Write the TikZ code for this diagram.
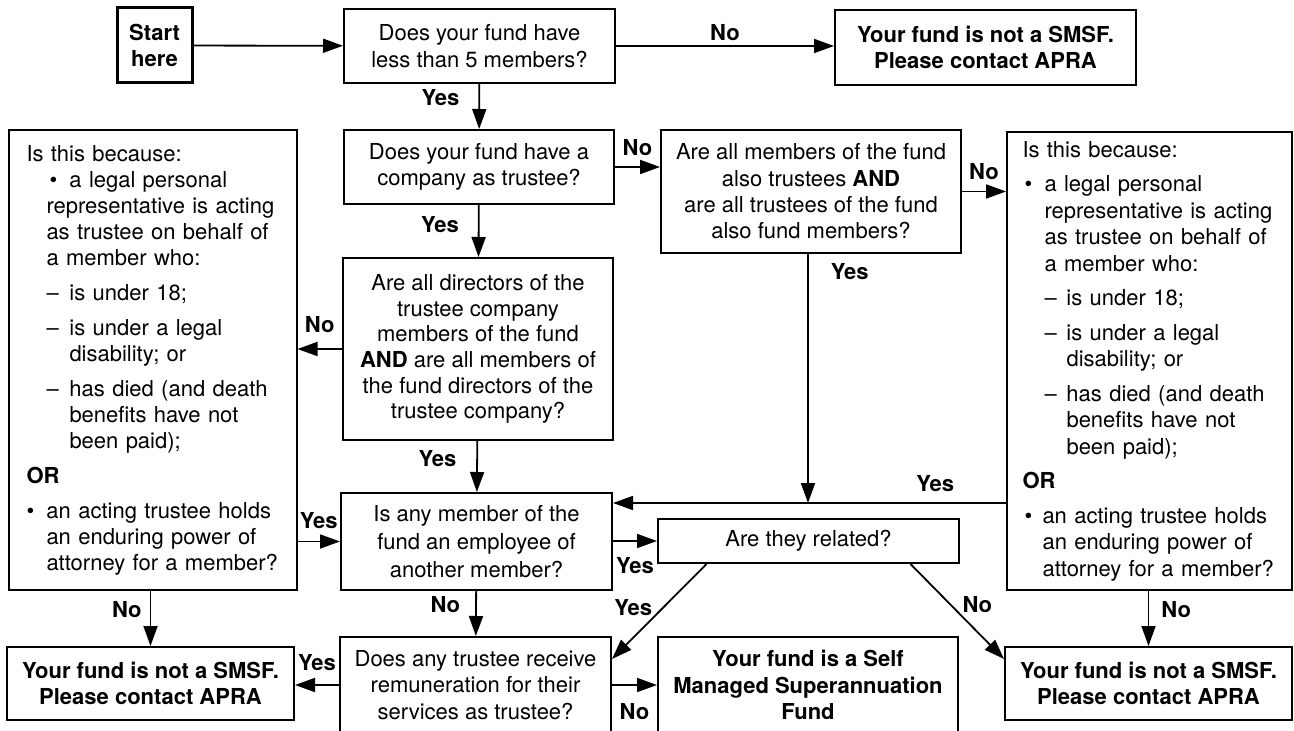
\documentclass[tikz,border=0pt]{standalone}
\usepackage{fontspec}
\setmainfont{TeX Gyre Heros}
\usetikzlibrary{arrows.meta, calc}

\begin{document}
\begin{tikzpicture}[
  x=0.5pt, y=-0.5pt,
  font=\fontsize{11}{13.2}\selectfont,
  >={Triangle[length=10pt,width=7pt]},
  box/.style={
    rectangle, draw, line width=1pt, align=center, inner sep=2pt
  },
  ask/.style={box},
  verdict/.style={box, font=\fontsize{11}{13.2}\selectfont\bfseries},
  note/.style={box, align=left},
  lbl/.style={font=\fontsize{11}{13.2}\selectfont\bfseries, inner sep=2pt},
  arr/.style={->, line width=0.9pt},
]
\useasboundingbox (0,0) rectangle (1294,731);
\clip (0,0) rectangle (1294,731);
%% Questions
\node[box, line width=1.5pt, font=\fontsize{11}{13.2}\selectfont\bfseries,
  minimum width=37.5pt, minimum height=37.5pt] (start) at (154.5,45.5) {Start\\here};
\node[ask, minimum width=135.5pt, minimum height=37pt] (q1) at (479.5,46)
  {Does your fund have\\less than 5 members?};
\node[ask, minimum width=135pt, minimum height=37pt] (q2) at (479,167)
  {Does your fund have a\\company as trustee?};
\node[ask, minimum width=150pt, minimum height=61.5pt] (q3) at (811,191.5)
  {Are all members of the fund\\also trustees \textbf{AND}\\are all trustees of the fund\\also fund members?};
\node[ask, minimum width=135pt, minimum height=91pt, font=\fontsize{11}{12.8}\selectfont] (q4) at (478,349)
  {Are all directors of the\\trustee company\\members of the fund\\\textbf{AND} are all members of\\the fund directors of the\\trustee company?};
\node[ask, minimum width=135.5pt, minimum height=48.5pt, font=\fontsize{11}{14}\selectfont] (q5) at (476.5,541.5)
  {Is any member of the\\fund an employee of\\another member?};
\node[ask, minimum width=150.5pt, minimum height=22pt] (rel) at (808.5,541) {Are they related?};
\node[ask, minimum width=135.5pt, minimum height=48pt] (q6) at (475.5,685)
  {Does any trustee receive\\remuneration for their\\services as trustee?};
%% Outcomes
\node[verdict, minimum width=150.5pt, minimum height=37.5pt] (ns1) at (985.5,47.5)
  {Your fund is not a SMSF.\\Please contact APRA};
\node[verdict, minimum width=143.5pt, minimum height=36.5pt] (ns2) at (150.5,683.5)
  {Your fund is not a SMSF.\\Please contact APRA};
\node[verdict, minimum width=143.5pt, minimum height=36.5pt] (ns3) at (1148.5,683.5)
  {Your fund is not a SMSF.\\Please contact APRA};
\node[verdict, minimum width=150pt, minimum height=48pt] (smsf) at (808,685)
  {Your fund is a Self\\Managed Superannuation\\Fund};
%% Exceptions
\node[note, text width=126pt, inner xsep=9pt, minimum height=230pt,
  font=\fontsize{11}{13}\selectfont] (lb) at (152.5,360) {%
  Is this because:\\
  \hspace*{11.5pt}\makebox[10pt][l]{\textbullet}a legal personal\\
  \hspace*{10pt}representative is acting\\
  \hspace*{10pt}as trustee on behalf of\\
  \hspace*{10pt}a member who:\\[4.5pt]
  \hspace*{10pt}\makebox[11.5pt][l]{--}is under 18;\\[4.5pt]
  \hspace*{10pt}\makebox[11.5pt][l]{--}is under a legal\\
  \hspace*{21.5pt}disability; or\\[4.5pt]
  \hspace*{10pt}\makebox[11.5pt][l]{--}has died (and death\\
  \hspace*{21.5pt}benefits have not\\
  \hspace*{21.5pt}been paid);\\[4.5pt]
  \textbf{OR}\\[4.5pt]
  \makebox[10pt][l]{\textbullet}an acting trustee holds\\
  \hspace*{10pt}an enduring power of\\
  \hspace*{10pt}attorney for a member?};
\node[note, text width=127pt, inner xsep=7.75pt, minimum height=229pt,
  font=\fontsize{11}{13.25}\selectfont] (rb) at (1149.5,361) {%
  Is this because:\\[4pt]
  \hspace*{1pt}\makebox[10pt][l]{\textbullet}a legal personal\\
  \hspace*{11pt}representative is acting\\
  \hspace*{11pt}as trustee on behalf of\\
  \hspace*{11pt}a member who:\\[4pt]
  \hspace*{11pt}\makebox[11pt][l]{--}is under 18;\\[4pt]
  \hspace*{11pt}\makebox[11pt][l]{--}is under a legal\\
  \hspace*{22pt}disability; or\\[4pt]
  \hspace*{11pt}\makebox[11pt][l]{--}has died (and death\\
  \hspace*{22pt}benefits have not\\
  \hspace*{22pt}been paid);\\[4pt]
  \textbf{OR}\\[4pt]
  \hspace*{1pt}\makebox[9pt][l]{\textbullet}an acting trustee holds\\
  \hspace*{10pt}an enduring power of\\
  \hspace*{10pt}attorney for a member?};
\coordinate (join) at (808,503);
%% Arrows
\draw[arr] (start) -- (q1);
\draw[arr] (q1.east) -- (q1.east -| ns1.west) node[lbl, midway, above=0pt] {No};
\draw[arr] (q1) -- (q2) node[lbl, pos=0.3, left=7.5pt] {Yes};
\draw[arr] (q2.east) -- (q2.east -| q3.west) node[lbl, midway, above=3pt] {No};
\draw[arr] (q2) -- (q4) node[lbl, pos=0.37, left=7.5pt] {Yes};
\draw[arr] (q3.east) -- (q3.east -| rb.west) node[lbl, midway, above=3.5pt] {No};
\draw[arr] (q3.south -| join) -- (join) node[lbl, pos=0.07, right=9pt] {Yes};
\draw[arr] (rb.west |- join) -- (join -| q5.east) node[lbl, pos=0.18, above=3pt] {Yes};
\draw[arr] (q4.west) -- (q4.west -| lb.east) node[lbl, midway, above=5.5pt] {No};
\draw[arr] (q4) -- (q5) node[lbl, pos=0.35, left=8pt] {Yes};
\draw[arr] (q5.west -| lb.east) -- (q5.west) node[lbl, midway, above=4pt] {Yes};
\draw[arr] (rel.west -| q5.east) -- (rel.west) node[lbl, midway, below=6pt] {Yes};
\draw[arr] (q5) -- (q6) node[lbl, pos=0.3, left=5.5pt] {No};
\draw[arr] ($(rel.south west)+(49.5,0)$) -- ($(q6.north east)+(0,23)$)
  node[lbl, pos=0.46, left=3pt] {Yes};
\draw[arr] ($(rel.south east)+(-49.5,0)$) -- ($(ns3.north west)+(0,13)$)
  node[lbl, pos=0.43, right=3.5pt] {No};
\draw[arr] (ns3.north |- rb.south) -- (ns3.north) node[lbl, pos=0.33, right=4pt] {No};
\draw[arr] (ns2.north |- lb.south) -- (ns2.north) node[lbl, pos=0.33, left=2pt] {No};
\draw[arr] (q6.west) -- (q6.west -| ns2.east) node[lbl, midway, above=4.5pt] {Yes};
\draw[arr] (q6.east) -- (q6.east -| smsf.west) node[lbl, midway, below=7pt] {No};
\end{tikzpicture}
\end{document}
